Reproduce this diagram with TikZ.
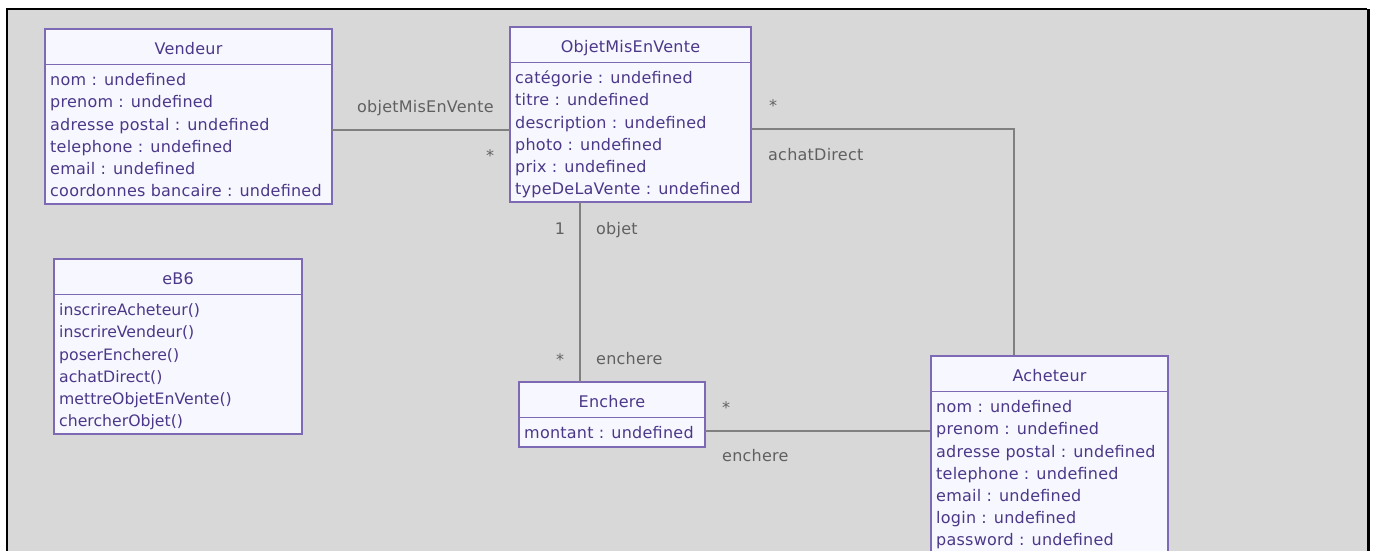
\documentclass[tikz,border=0pt]{standalone}
\usepackage{fontspec}
\setmainfont{DejaVu Sans}[LetterSpace=1.5]
\newfontfamily\opfont{DejaVu Sans}

\definecolor{canvas}{RGB}{216,216,216}
\definecolor{umlborder}{RGB}{125,105,180}
\definecolor{umlfill}{RGB}{247,247,255}
\definecolor{umltext}{RGB}{76,56,136}
\definecolor{assocgray}{RGB}{128,128,128}
\definecolor{labelgray}{RGB}{96,96,96}

\newcommand\umlsize{\fontsize{16}{19}\selectfont}

\tikzset{
  classbox/.style={draw=umlborder, fill=umlfill, line width=1.3pt, inner sep=0pt,
                   outer sep=0pt, anchor=north west},
  classsep/.style={draw=umlborder, line width=1.3pt},
  classtitle/.style={text=umltext, font=\umlsize, anchor=base, inner sep=0pt},
  attrrow/.style={text=umltext, font=\umlsize, anchor=base west, inner sep=0pt},
  operrow/.style={text=umltext, font=\opfont\fontsize{15.7}{18}\selectfont,
                  anchor=base west, inner sep=0pt},
  assoc/.style={draw=assocgray, line width=1.4pt},
  role/.style={text=labelgray, font=\umlsize, anchor=base west, inner sep=0pt},
  mult/.style={text=labelgray, font=\umlsize, anchor=base, inner sep=0pt},
}

% #1 name, #2 left, #3 top, #4 width, #5 height, #6 title, #7 row style, #8 rows
\newcommand\umlclass[8]{%
  \node[classbox, minimum width=#4pt, minimum height=#5pt] (#1) at (#2,#3) {};
  \draw[classsep] ([yshift=-35.5pt]#1.north west) -- ([yshift=-35.5pt]#1.north east);
  \node[classtitle] (#1-title) at ([yshift=-25.8pt]#1.north) {#6};
  \foreach \r [count=\i] in {#8}
    \node[#7] (#1-\i) at ([xshift=5pt, yshift={-56.7pt-22.2pt*(\i-1)}]#1.north west) {\r};
}

\begin{document}
\begin{tikzpicture}[x=1pt, y=-1pt]
  \useasboundingbox (0,0) rectangle (1374,551);
  \clip (0,0) rectangle (1374,551);

  % canvas and its frame
  \fill[white] (0,0) rectangle (1374,551);
  \fill[canvas] (8,10) rectangle (1367,551);
  \fill[black] (6,8) rectangle (8,551);
  \fill[black] (6,8) rectangle (1367,10);
  \fill[black] (1367,9) rectangle (1370,551);

  % classes
  \umlclass{vendeur}{45}{29}{287}{175}{Vendeur}{attrrow}{%
    nom : undefined, prenom : undefined, adresse postal : undefined,
    telephone : undefined, email : undefined, coordonnes bancaire : undefined}
  \umlclass{omv}{510}{27}{241}{175}{ObjetMisEnVente}{attrrow}{%
    catégorie : undefined, titre : undefined, description : undefined,
    photo : undefined, prix : undefined, typeDeLaVente : undefined}
  \umlclass{eb}{54}{259}{248}{175}{eB6}{operrow}{%
    inscrireAcheteur(), inscrireVendeur(), poserEnchere(), achatDirect(),
    mettreObjetEnVente(), chercherObjet()}
  \umlclass{enchere}{519}{382}{186}{65}{Enchere}{attrrow}{montant : undefined}

  % associations
  \draw[assoc] (vendeur.east |- 0,130) -- (omv.west |- 0,130);
  \draw[assoc] (omv.east |- 0,129) -| (1014,356) coordinate (achatEnd);
  \draw[assoc] (omv.south -| 580,0) -- (enchere.north -| 580,0);
  \draw[assoc] (enchere.east |- 0,431) -- (931,431) coordinate (enchereEnd);

  \umlclass{acheteur}{931}{356}{237}{212}{Acheteur}{attrrow}{%
    nom : undefined, prenom : undefined, adresse postal : undefined,
    telephone : undefined, email : undefined, login : undefined,
    password : undefined}

  % role names and multiplicities
  \node[role] (r-omv)     at (357,113)   {objetMisEnVente};
  \node[mult] (m-omv)     at (490,161.5) {*};
  \node[mult] (m-achat)   at (773,111.5) {*};
  \node[role] (r-achat)   at (768,160)   {achatDirect};
  \node[mult] (m-objet)   at (560,234.8) {1};
  \node[role] (r-objet)   at (596,234)   {objet};
  \node[mult] (m-ench1)   at (560,365.2) {*};
  \node[role] (r-ench1)   at (596,364.3) {enchere};
  \node[mult] (m-ench2)   at (726,413.5) {*};
  \node[role] (r-ench2)   at (722,461.7) {enchere};
\end{tikzpicture}
\end{document}
